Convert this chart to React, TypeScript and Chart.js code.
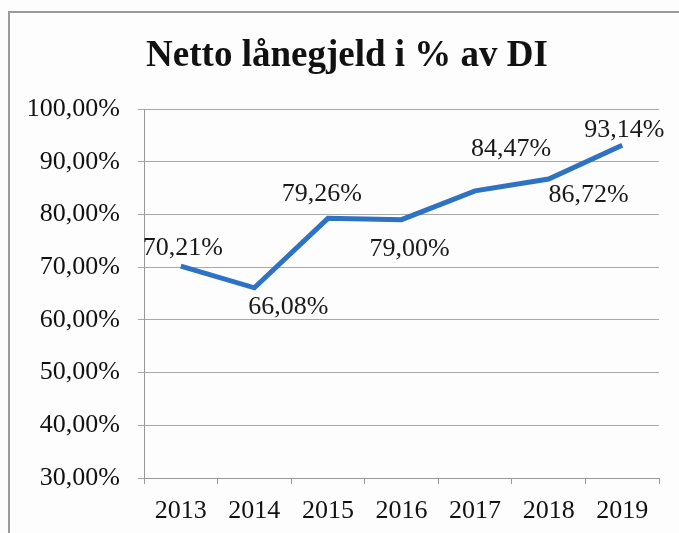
import React, { useEffect, useRef } from "react";
import { Chart, registerables } from "chart.js";

Chart.register(...registerables);

const TITLE = "Netto lånegjeld i % av DI";
const years = ["2013", "2014", "2015", "2016", "2017", "2018", "2019"];
const values = [70.21, 66.08, 79.26, 79.0, 84.47, 86.72, 93.14];
const yMin = 30;
const yMax = 100;
const yStep = 10;
// label placement relative to each point (style only)
const labelDx = [2, 34, -6, 8, 36, 40, 2];
const labelDy = [-18, 19, -24, 29, -42, 16, -15];

const fmt = (v: number) => v.toFixed(2).replace(".", ",") + "%";
const FONT = "'Liberation Serif', 'Times New Roman', serif";

export default function App() {
  const ref = useRef<HTMLCanvasElement | null>(null);
  useEffect(() => {
    const canvas = ref.current;
    if (!canvas) return;
    const framePlugin = {
      id: "frame",
      beforeDraw(chart: any) {
        const ctx = chart.ctx;
        ctx.save();
        ctx.fillStyle = "#fdfdfd";
        ctx.fillRect(0, 0, chart.width, chart.height);
        ctx.strokeStyle = "#9a9a9a";
        ctx.lineWidth = 2;
        ctx.strokeRect(9, 12, 700, 600);
        ctx.font = `bold 37px ${FONT}`;
        ctx.fillStyle = "#111";
        ctx.textAlign = "center";
        ctx.textBaseline = "alphabetic";
        ctx.fillText(TITLE, 347, 66);
        ctx.restore();
      },
    };
    const labelPlugin = {
      id: "pointLabels",
      afterDatasetsDraw(chart: any) {
        const ctx = chart.ctx;
        const meta = chart.getDatasetMeta(0);
        ctx.save();
        ctx.font = `26px ${FONT}`;
        ctx.fillStyle = "#1a1a1a";
        ctx.textAlign = "center";
        ctx.textBaseline = "middle";
        meta.data.forEach((pt: any, i: number) => {
          ctx.fillText(fmt(values[i]), pt.x + labelDx[i], pt.y + labelDy[i]);
        });
        ctx.restore();
      },
    };
    const chart = new Chart(canvas, {
      type: "line",
      data: {
        labels: years,
        datasets: [
          {
            data: values,
            borderColor: "#2e72c4",
            borderWidth: 5,
            pointRadius: 0,
            tension: 0,
            fill: false,
          },
        ],
      },
      options: {
        responsive: false,
        animation: false,
        layout: { padding: { left: 8, right: 20, top: 109, bottom: 0 } },
        plugins: {
          legend: { display: false },
          tooltip: { enabled: false },
          title: { display: false },
        },
        scales: {
          x: {
            offset: true,
            grid: {
              display: true,
              offset: true,
              drawOnChartArea: false,
              drawTicks: true,
              tickLength: 6,
              color: "#999",
            },
            border: { display: true, color: "#999", width: 1 },
            ticks: {
              color: "#111",
              font: { family: FONT, size: 26 },
              padding: 12,
              maxRotation: 0,
            },
            afterFit(scale: any) {
              scale.height = 55;
            },
          },
          y: {
            min: yMin,
            max: yMax,
            ticks: {
              stepSize: yStep,
              color: "#111",
              font: { family: FONT, size: 26 },
              padding: 18,
              callback: (v: any) => fmt(Number(v)),
            },
            grid: { color: "#a8a8a8", tickLength: 6, lineWidth: 1 },
            border: { display: true, color: "#999", width: 1 },
            afterFit(scale: any) {
              scale.width = 136;
            },
          },
        },
      },
      plugins: [framePlugin, labelPlugin],
    });
    return () => chart.destroy();
  }, []);
  return (
    <div style={{ position: "absolute", left: 0, top: 0, width: 679, height: 533 }}>
      <canvas ref={ref} width={679} height={533} />
    </div>
  );
}
